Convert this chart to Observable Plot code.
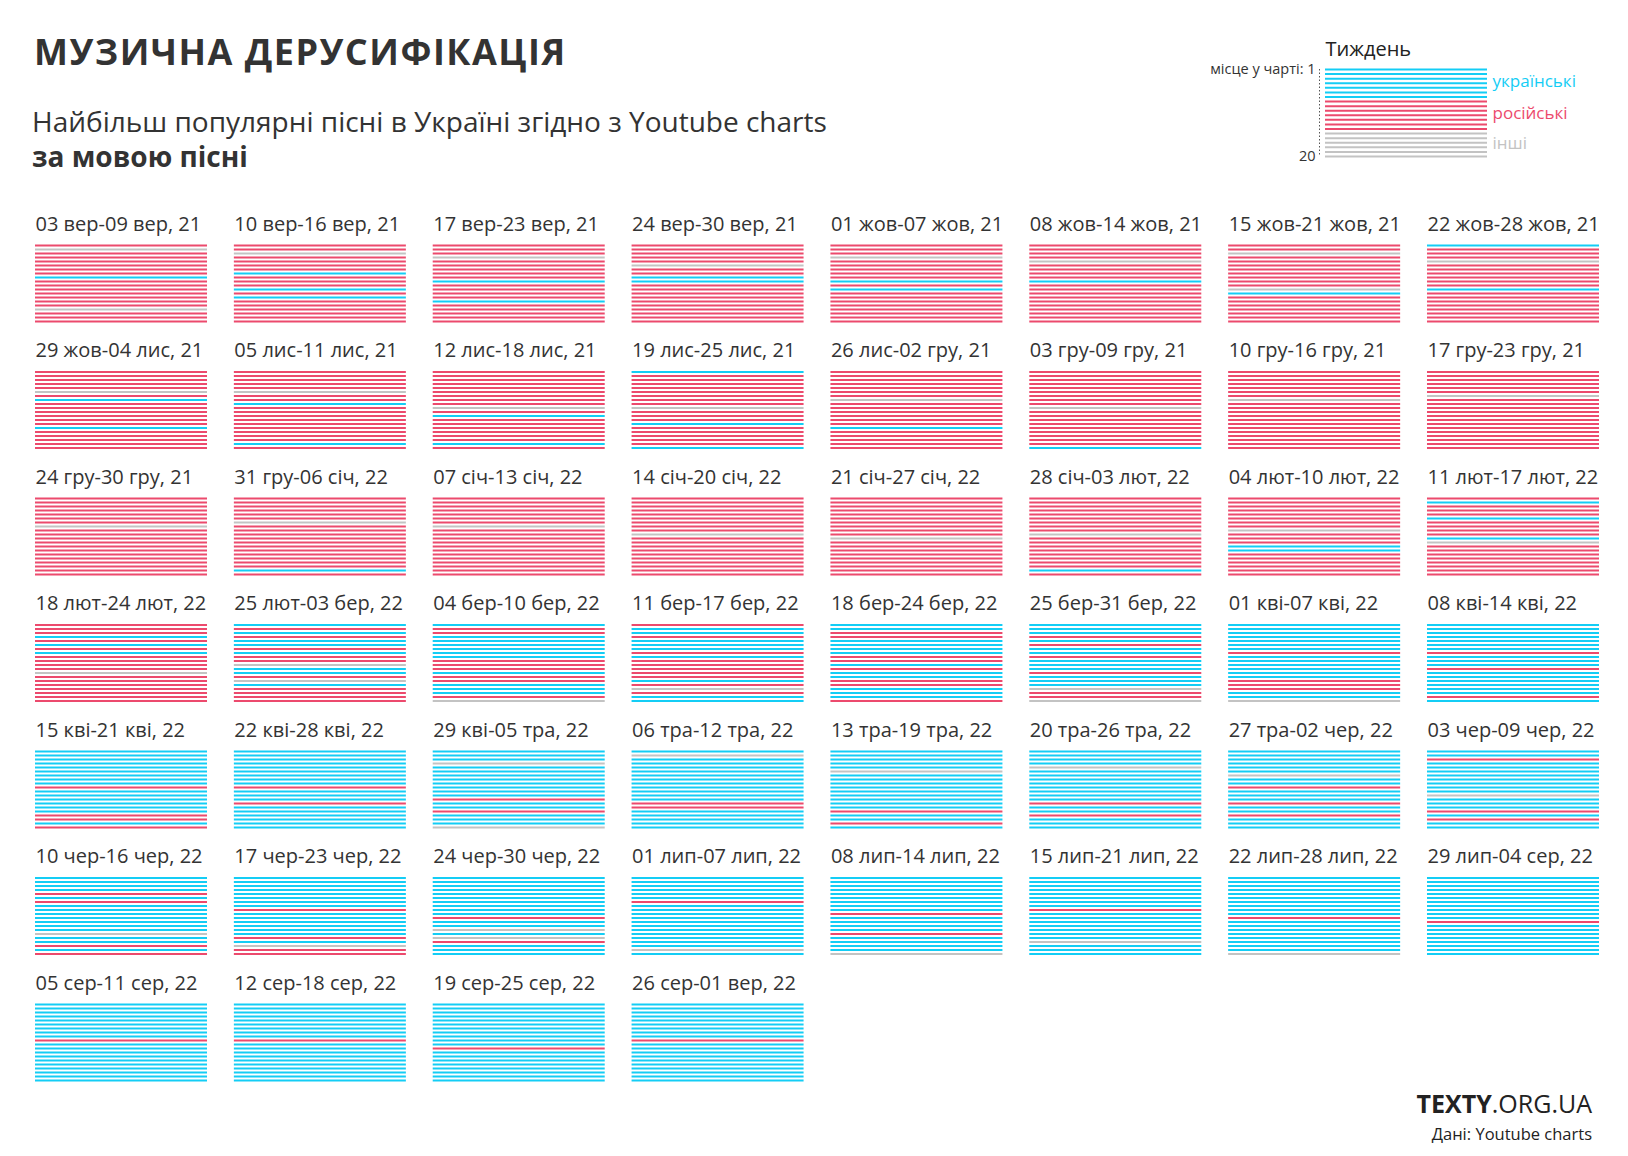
<!DOCTYPE html>
<html>
<head>
<meta charset="utf-8">
<script src="https://cdn.jsdelivr.net/npm/d3@7"></script>
<script src="https://cdn.jsdelivr.net/npm/@observablehq/plot@0.6"></script>
<style>
  html, body { margin: 0; padding: 0; background: #fff; }
  body { width: 1628px; height: 1156px; position: relative; overflow: hidden; font-family: "Open Sans", sans-serif; color: #333; }
  .abs { position: absolute; white-space: nowrap; }
  #title { left: 34px; top: 34px; font-size: 36px; font-weight: 700; line-height: 1; letter-spacing: 1.5px; color: #333; }
  #sub1 { left: 32px; top: 107px; font-size: 28px; line-height: 1; color: #333; }
  #sub2 { left: 32px; top: 142px; font-size: 28px; font-weight: 700; line-height: 1; color: #333; }
  #chart { left: 0; top: 0; }
  #legend { left: 1160px; top: 0; }
  #logo { right: 36px; top: 1091px; font-size: 25px; line-height: 1; letter-spacing: 0; color: #222; }
  #logo b { font-weight: 700; }
  #source { right: 36px; top: 1126px; font-size: 16.5px; line-height: 1; color: #222; }
</style>
</head>
<body>
<div id="chart" class="abs"></div>
<div id="legend" class="abs"></div>
<div id="title" class="abs">МУЗИЧНА ДЕРУСИФІКАЦІЯ</div>
<div id="sub1" class="abs">Найбільш популярні пісні в Україні згідно з Youtube charts</div>
<div id="sub2" class="abs">за мовою пісні</div>
<div id="logo" class="abs"><b>TEXTY</b>.ORG.UA</div>
<div id="source" class="abs">Дані: Youtube charts</div>
<script>
// ---- DATA ----
const weekLabels = [
  "03 вер-09 вер, 21", "10 вер-16 вер, 21", "17 вер-23 вер, 21", "24 вер-30 вер, 21",
  "01 жов-07 жов, 21", "08 жов-14 жов, 21", "15 жов-21 жов, 21", "22 жов-28 жов, 21",
  "29 жов-04 лис, 21", "05 лис-11 лис, 21", "12 лис-18 лис, 21", "19 лис-25 лис, 21",
  "26 лис-02 гру, 21", "03 гру-09 гру, 21", "10 гру-16 гру, 21", "17 гру-23 гру, 21",
  "24 гру-30 гру, 21", "31 гру-06 січ, 22", "07 січ-13 січ, 22", "14 січ-20 січ, 22",
  "21 січ-27 січ, 22", "28 січ-03 лют, 22", "04 лют-10 лют, 22", "11 лют-17 лют, 22",
  "18 лют-24 лют, 22", "25 лют-03 бер, 22", "04 бер-10 бер, 22", "11 бер-17 бер, 22",
  "18 бер-24 бер, 22", "25 бер-31 бер, 22", "01 кві-07 кві, 22", "08 кві-14 кві, 22",
  "15 кві-21 кві, 22", "22 кві-28 кві, 22", "29 кві-05 тра, 22", "06 тра-12 тра, 22",
  "13 тра-19 тра, 22", "20 тра-26 тра, 22", "27 тра-02 чер, 22", "03 чер-09 чер, 22",
  "10 чер-16 чер, 22", "17 чер-23 чер, 22", "24 чер-30 чер, 22", "01 лип-07 лип, 22",
  "08 лип-14 лип, 22", "15 лип-21 лип, 22", "22 лип-28 лип, 22", "29 лип-04 сер, 22",
  "05 сер-11 сер, 22", "12 сер-18 сер, 22", "19 сер-25 сер, 22", "26 сер-01 вер, 22"
];
// Language of chart positions 1..20 for each week (groups of 5 positions):
// u = українські, r = російські, o = інші
const weekLangs = [
  "rorrr rrrur rrrrr rorrr", "rrorr rrurr rurur rrrrr", "rrror rrrru rrrru rrrrr", "rrrrr orruu rrrrr rrrrr",
  "rrror rrrru rurrr rrrrr", "rrrro rrrru rrrrr rrrrr", "rrorr rrrrr rourr rrrrr", "urrro rrrrr rurrr rrrrr",
  "rrrrr orurr rrrru rrrrr", "rrrrr orrur rrrrr rrrur", "rrrrr rrrro rurrr rrrur", "urrrr rrrro rrrur rrrru",
  "rrrrr rrorr rrrru rrrrr", "rrrrr rrrro rrrrr rrrru", "rrrrr rrorr rrrrr rrrrr", "rrrrr rorrr rrrrr rrrrr",
  "rrrrr rrorr rrrrr rrrrr", "rrrrr rorrr rrrrr rrrur", "rrrrr rrorr rrrrr rrrrr", "rrrrr rrrro rrrrr rrrrr",
  "rrrrr rrrrr orrrr rrrrr", "rrrrr rrrro rrrrr rrrur", "rrrrr rrror rruur rrrrr", "rurrr urrrr uorrr rrrrr",
  "rrrur ururr rrorr rrrrr", "ururu ururr ouuro urrrr", "urruu uuuur rrurr uuuro", "ruuru uurur rrrru roruu",
  "uurru uuurr uruur ruuur", "uuuru ruuru uuruu uorro", "uuuuu uuruu uuuur rruuo", "uuuuu uuruu uruuu uuuru",
  "uuuuu uuuur uuuuu urrur", "uuuuu uuuur uuuru uuuuu", "uuuou uuuuu uuruu ruuuo", "uouuu uuuuu uuurr uuuuu",
  "uuuuu ouuuu uuuuu ruuru", "uuuuo uuuuu uuuru uruuu", "uuuuu uouur uuuru uruuu", "uuruu uuuuu uouuu ruruu",
  "uuuur uruuu uuuuo uurur", "uuuuu uuuru uuuuu ruorr", "uuuuu uuuuu ruuou oruuu", "uuuuu uruuu uuuuu uuuou",
  "uuuuu uuuur uuuur uuuuo", "uuuuu uuuru uuuuu uouuu", "uuuuu uuuuu ruuuu uuuuo", "uuuuu uuuuu uruuu uuuuu",
  "uuuuu uuuur uuuuu uuuuu", "uuuuu uuuur uuuuu uuuuu", "uuuuu uuuuu uruuu uuuuu", "uuuuu uuuur uuuuu uuuuu"
];
const langCodes = ["u", "r", "o"];
const langNames = ["українські", "російські", "інші"];
const langColors = ["#14cdf5", "#ec4a6d", "#c3c3c3"];
const legendLangs = "uuuuu uurrr rrrro ooooo";
const panelColumns = 8;

// ---- BUILD TABLES ----
const lines = [];
const weeks = weekLabels.map((label, i) => ({label, col: i % panelColumns, row: Math.floor(i / panelColumns)}));
weekLangs.forEach((s, i) => {
  [...s.replace(/ /g, "")].forEach((lang, j) => {
    lines.push({col: weeks[i].col, row: weeks[i].row, rank: j + 1, lang});
  });
});
const nRows = Math.ceil(weekLabels.length / panelColumns);

const chart = Plot.plot({
  width: 1628,
  height: 1156,
  marginLeft: 35,
  marginRight: 29,
  marginTop: 245,
  marginBottom: 76,
  style: {fontFamily: "Open Sans, sans-serif", background: "transparent"},
  fx: {domain: d3.range(panelColumns), paddingInner: 0.135, paddingOuter: 0, round: false, axis: null},
  fy: {domain: d3.range(nRows), paddingInner: 0.4, paddingOuter: 0, round: false, axis: null},
  y: {domain: [1, 20], reverse: true, axis: null},
  color: {domain: langCodes, range: langColors},
  marks: [
    Plot.ruleY(lines, {fx: "col", fy: "row", y: "rank", stroke: "lang", strokeWidth: 2}),
    Plot.text(weeks, {fx: "col", fy: "row", text: "label", frameAnchor: "top-left", textAnchor: "start",
      lineAnchor: "bottom", dy: -15, fontSize: 20, fill: "#333"})
  ]
});
document.getElementById("chart").appendChild(chart);

// ---- LEGEND ----
const legendLines = [...legendLangs.replace(/ /g, "")].map((lang, j) => ({rank: j + 1, lang}));
const legendGroups = langCodes.map((code, k) => {
  const ranks = legendLines.filter(d => d.lang === code).map(d => d.rank);
  return {lang: code, name: langNames[k], mid: d3.mean(ranks)};
});
const firstRank = 1, lastRank = legendLines.length;
const legend = Plot.plot({
  width: 468,
  height: 170,
  marginLeft: 165,
  marginRight: 141,
  marginTop: 69,
  marginBottom: 14,
  style: {fontFamily: "Open Sans, sans-serif", background: "transparent"},
  x: {domain: [0, 1], axis: null},
  y: {domain: [firstRank, lastRank], reverse: true, axis: null},
  color: {domain: langCodes, range: langColors},
  marks: [
    Plot.ruleY(legendLines, {y: "rank", stroke: "lang", strokeWidth: 2}),
    Plot.ruleX([0], {y1: firstRank, y2: lastRank, dx: -6, stroke: "#555", strokeDasharray: "1.5,2"}),
    Plot.text([`місце у чарті: ${firstRank}`], {x: 0, y: firstRank, dx: -10, textAnchor: "end", fontSize: 14.5, fill: "#333"}),
    Plot.text([`${lastRank}`], {x: 0, y: lastRank, dx: -10, textAnchor: "end", fontSize: 14.5, fill: "#333"}),
    Plot.text(legendGroups, {x: 1, y: "mid", text: "name", fill: "lang", dx: 5, dy: -2, textAnchor: "start", fontSize: 17}),
    Plot.text(["Тиждень"], {frameAnchor: "top-left", textAnchor: "start", lineAnchor: "bottom", dy: -14, fontSize: 20, fill: "#222"})
  ]
});
document.getElementById("legend").appendChild(legend);
</script>
</body>
</html>
